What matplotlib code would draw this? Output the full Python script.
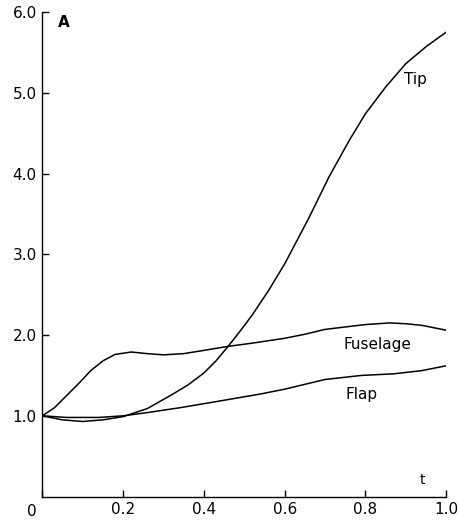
import matplotlib.pyplot as plt

# values
t_tip = [0, 0.05, 0.1, 0.15, 0.2, 0.26, 0.32, 0.36, 0.4, 0.43, 0.46, 0.49, 0.52, 0.56, 0.6,
         0.66, 0.71, 0.76, 0.8, 0.85, 0.9, 0.95, 1.0]
a_tip = [1.0, 0.95, 0.93, 0.95, 0.99, 1.09, 1.26, 1.38, 1.53, 1.68, 1.86, 2.05, 2.25, 2.55,
         2.88, 3.45, 3.96, 4.41, 4.74, 5.07, 5.36, 5.57, 5.75]

t_fus = [0, 0.03, 0.06, 0.09, 0.12, 0.15, 0.18, 0.22, 0.26, 0.3, 0.35, 0.4, 0.46, 0.52,
         0.6, 0.65, 0.7, 0.75, 0.8, 0.86, 0.9, 0.94, 0.97, 1.0]
a_fus = [1.0, 1.1, 1.25, 1.4, 1.56, 1.68, 1.76, 1.79, 1.77, 1.755, 1.77, 1.81, 1.86, 1.9,
         1.96, 2.01, 2.07, 2.1, 2.13, 2.15, 2.14, 2.12, 2.09, 2.06]

t_flap = [0, 0.06, 0.14, 0.2, 0.26, 0.34, 0.4, 0.47, 0.54, 0.6, 0.65, 0.7, 0.79, 0.87,
          0.94, 1.0]
a_flap = [1.0, 0.98, 0.98, 1.0, 1.04, 1.1, 1.15, 1.21, 1.27, 1.33, 1.39, 1.45, 1.5, 1.52,
          1.56, 1.62]

xticks = [0, 0.2, 0.4, 0.6, 0.8, 1.0]
xlabels = ['', '0.2', '0.4', '0.6', '0.8', '1.0']
yticks = [1, 2, 3, 4, 5, 6]
ylabels = ['1.0', '2.0', '3.0', '4.0', '5.0', '6.0']

fig = plt.figure(figsize=(4.6, 5.2), dpi=100)
ax = fig.add_axes([0.092, 0.045, 0.878, 0.932])

for t, a in [(t_tip, a_tip), (t_fus, a_fus), (t_flap, a_flap)]:
    ax.plot(t, a, color='black', lw=1.1)

ax.set_xlim(0, 1.0)
ax.set_ylim(0, 6.0)
ax.set_xticks(xticks)
ax.set_xticklabels(xlabels)
ax.set_yticks(yticks)
ax.set_yticklabels(ylabels)
ax.tick_params(direction='in', length=5, width=1, labelsize=11, pad=4)
for s in ['top', 'right']:
    ax.spines[s].set_visible(False)
for s in ['left', 'bottom']:
    ax.spines[s].set_linewidth(1)

# the "0" sits left of the origin in the original
ax.text(-0.027, -0.09, '0', fontsize=11, ha='center', va='top', clip_on=False)

ax.text(0.925, 5.17, 'Tip', fontsize=11, ha='center', va='center')
ax.text(0.83, 1.88, 'Fuselage', fontsize=11, ha='center', va='center')
ax.text(0.79, 1.27, 'Flap', fontsize=11, ha='center', va='center')
ax.text(0.053, 5.87, 'A', fontsize=11, ha='center', va='center', fontweight='bold')
ax.text(0.94, 0.21, 't', fontsize=10, ha='center', va='center')

fig.savefig('out.png', dpi=100)
